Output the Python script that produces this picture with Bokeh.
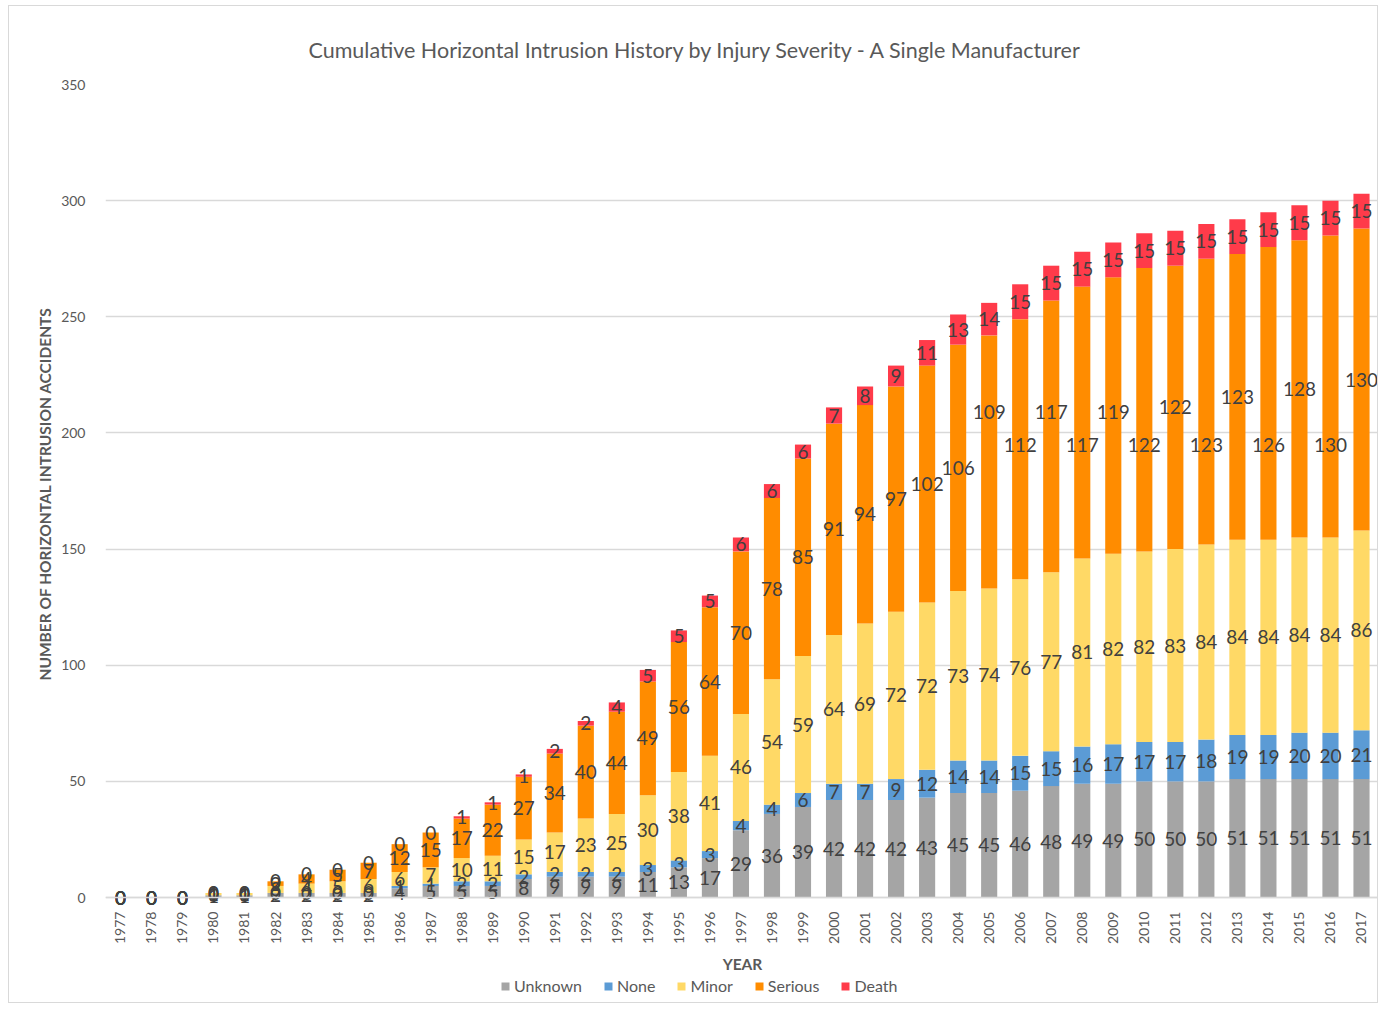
import math
from bokeh.plotting import figure
from bokeh.models import ColumnDataSource, FixedTicker, Legend, LegendItem, Title
from bokeh.core.properties import value
from bokeh.embed import file_html
from bokeh.resources import INLINE

years = list(range(1977, 2018))
unknown = [0, 0, 0, 1, 1, 2, 2, 2, 2, 4, 5, 5, 5, 8, 9, 9, 9, 11, 13, 17, 29,
           36, 39, 42, 42, 42, 43, 45, 45, 46, 48, 49, 49, 50, 50, 50, 51, 51, 51, 51, 51]
none_ = [0, 0, 0, 0, 0, 0, 0, 0, 0, 1, 1, 2, 2, 2, 2, 2, 2, 3, 3, 3, 4,
         4, 6, 7, 7, 9, 12, 14, 14, 15, 15, 16, 17, 17, 17, 18, 19, 19, 20, 20, 21]
minor = [0, 0, 0, 1, 1, 3, 4, 5, 6, 6, 7, 10, 11, 15, 17, 23, 25, 30, 38, 41, 46,
         54, 59, 64, 69, 72, 72, 73, 74, 76, 77, 81, 82, 82, 83, 84, 84, 84, 84, 84, 86]
serious = [0, 0, 0, 0, 0, 2, 4, 5, 7, 12, 15, 17, 22, 27, 34, 40, 44, 49, 56, 64, 70,
           78, 85, 91, 94, 97, 102, 106, 109, 112, 117, 117, 119, 122, 122, 123, 123, 126, 128, 130, 130]
death = [0, 0, 0, 0, 0, 0, 0, 0, 0, 0, 0, 1, 1, 1, 2, 2, 4, 5, 5, 5, 6,
         6, 6, 7, 8, 9, 11, 13, 14, 15, 15, 15, 15, 15, 15, 15, 15, 15, 15, 15, 15]

series = ["Unknown", "None", "Minor", "Serious", "Death"]
colors = ["#a5a5a5", "#5b9bd5", "#ffd966", "#ff8c00", "#ff3b4a"]
title_text = "Cumulative Horizontal Intrusion History by Injury Severity - A Single Manufacturer"
y_title = "NUMBER OF HORIZONTAL INTRUSION ACCIDENTS"
y_ticks = [0, 50, 100, 150, 200, 250, 300, 350]

FONT = "Lato"
GREY = "#595959"

source = ColumnDataSource(dict(year=years, Unknown=unknown, None_=none_,
                               Minor=minor, Serious=serious, Death=death))
stack_keys = ["Unknown", "None_", "Minor", "Serious", "Death"]

# the frame runs down to the bottom edge; the year axis is pinned at y=0 and
# the legend sits in the strip below it
p = figure(width=1370, height=998, x_range=(1976.52, 2017.58), y_range=(-45.6, 350),
           output_backend="svg", toolbar_location=None,
           min_border_left=96, min_border_right=0, min_border_top=78, min_border_bottom=1)
p.styles = {"margin-left": "8px", "margin-top": "5px", "border": "1px solid #d9d9d9"}

p.title.text = title_text
p.title.align = "left"
p.title.vertical_align = "top"
p.title.offset = 203
p.title.standoff = 40
p.title.text_font = FONT
p.title.text_font_size = "21.5px"
p.title.text_font_style = "normal"
p.title.text_color = GREY

renderers = p.vbar_stack(stack_keys, x="year", width=0.52, color=colors,
                         line_color=None, source=source)

# data labels at the centre of each segment
seg_values = [unknown, none_, minor, serious, death]
lx, ly, lt = [], [], []
base = [0] * len(years)
for k, vals in enumerate(seg_values):
    for i, yr in enumerate(years):
        center = base[i] + vals[i] / 2
        if k == 3 and yr >= 2005:
            # stagger the crowded serious labels into two lanes
            center = 195 if (yr - 2005) % 2 == 1 else max(center, 209)
        lx.append(yr)
        ly.append(center)
        lt.append(str(vals[i]))
    base = [b + v for b, v in zip(base, vals)]

p.text(x=lx, y=ly, text=lt, text_align="center", text_baseline="middle",
       text_font=value(FONT), text_font_size="19px", text_color="#404040")

# y axis
p.yaxis.ticker = FixedTicker(ticks=y_ticks)
p.yaxis.axis_line_color = None
p.yaxis.major_tick_line_color = None
p.yaxis.minor_tick_line_color = None
p.yaxis.major_label_text_font = FONT
p.yaxis.major_label_text_font_size = "14px"
p.yaxis.major_label_text_color = GREY
p.yaxis.major_label_standoff = 14

y_label = Title(text=y_title, align="left", offset=323, standoff=10,
                text_font=FONT, text_font_size="15.5px", text_font_style="bold",
                text_color=GREY)
p.add_layout(y_label, "left")

# x axis pinned to the zero line
p.xaxis.fixed_location = 0
p.xaxis.ticker = FixedTicker(ticks=years)
p.xaxis.major_label_orientation = math.pi / 2
p.xaxis.axis_line_color = "#d9d9d9"
p.xaxis.axis_line_width = 1.5
p.xaxis.major_tick_line_color = None
p.xaxis.minor_tick_line_color = None
p.xaxis.major_label_text_font = FONT
p.xaxis.major_label_text_font_size = "14px"
p.xaxis.major_label_text_color = GREY
p.xaxis.major_label_standoff = 8
p.xaxis.axis_label = "YEAR"
p.xaxis.axis_label_text_font = FONT
p.xaxis.axis_label_text_font_size = "15.5px"
p.xaxis.axis_label_text_font_style = "bold"
p.xaxis.axis_label_text_color = GREY
p.xaxis.axis_label_standoff = 8

p.xgrid.grid_line_color = None
p.ygrid.ticker = FixedTicker(ticks=y_ticks)
p.ygrid.grid_line_color = "#d9d9d9"
p.ygrid.grid_line_width = 1.5
p.outline_line_color = None

legend = Legend(items=[LegendItem(label=s, renderers=[r]) for s, r in zip(series, renderers)],
                orientation="horizontal", location=(395, 8),
                glyph_width=10, glyph_height=10, spacing=21, padding=0, margin=0,
                label_text_font=FONT, label_text_font_size="16px",
                label_height=16, label_text_color=GREY, label_standoff=4,
                border_line_color=None, background_fill_alpha=0)
p.add_layout(legend, "center")

open("out.html", "w").write(file_html(p, INLINE))
